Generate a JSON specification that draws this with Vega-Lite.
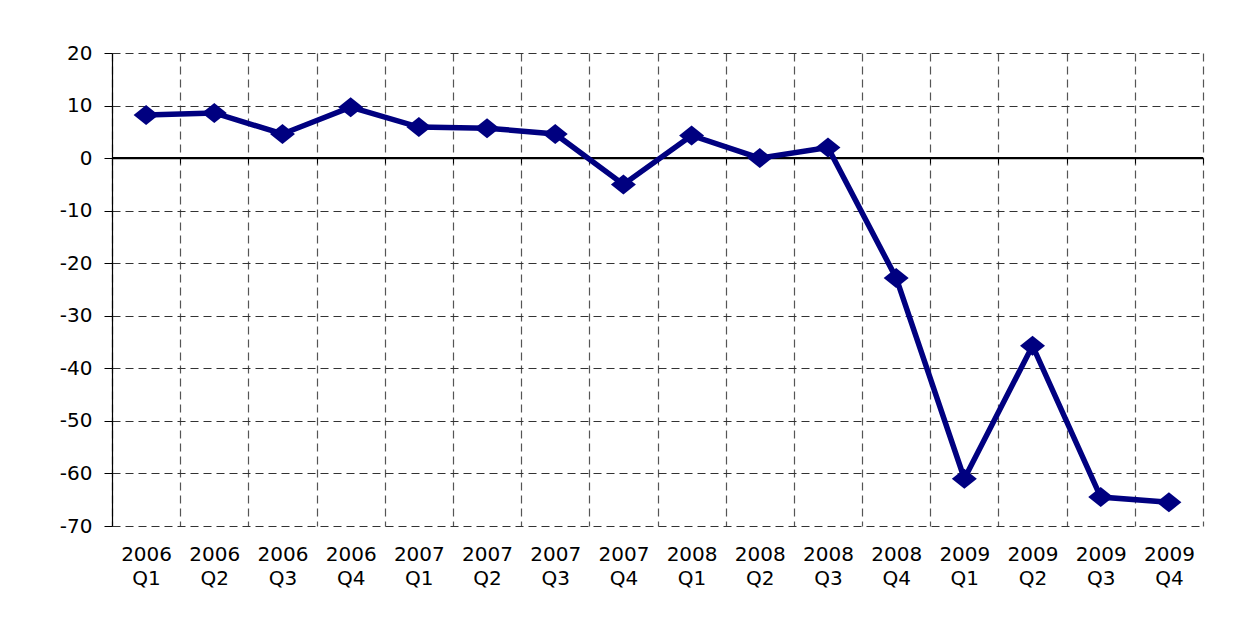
{
  "$schema": "https://vega.github.io/schema/vega-lite/v6.json",
  "width": 1091,
  "height": 473,
  "autosize": "none",
  "padding": {"left": 112, "top": 53, "right": 31, "bottom": 118},
  "background": "white",
  "config": {
    "font": "DejaVu Sans",
    "view": {"stroke": null}
  },
  "data": {
    "values": [
      {"q": "2006 Q1", "v": 8.2},
      {"q": "2006 Q2", "v": 8.6},
      {"q": "2006 Q3", "v": 4.6},
      {"q": "2006 Q4", "v": 9.7},
      {"q": "2007 Q1", "v": 5.9},
      {"q": "2007 Q2", "v": 5.7},
      {"q": "2007 Q3", "v": 4.6},
      {"q": "2007 Q4", "v": -5.0},
      {"q": "2008 Q1", "v": 4.3},
      {"q": "2008 Q2", "v": 0.0},
      {"q": "2008 Q3", "v": 2.0},
      {"q": "2008 Q4", "v": -22.8},
      {"q": "2009 Q1", "v": -61.0},
      {"q": "2009 Q2", "v": -35.7},
      {"q": "2009 Q3", "v": -64.5},
      {"q": "2009 Q4", "v": -65.5}
    ]
  },
  "encoding": {
    "x": {
      "field": "q",
      "type": "nominal",
      "sort": null,
      "scale": {"type": "band", "paddingInner": 0, "paddingOuter": 0},
      "axis": {
        "title": null,
        "labelAngle": 0,
        "labelExpr": "split(datum.label, ' ')",
        "labelFontSize": 20,
        "labelColor": "black",
        "labelPadding": 18,
        "labelLineHeight": 24,
        "labelBaseline": "top",
        "tickBand": "extent",
        "ticks": false,
        "domain": false,
        "grid": true,
        "gridColor": "#555",
        "gridDash": [8, 5],
        "gridWidth": 1.2
      }
    },
    "y": {
      "field": "v",
      "type": "quantitative",
      "scale": {"domain": [-70, 20], "nice": false, "zero": false},
      "axis": {
        "title": null,
        "values": [-70, -60, -50, -40, -30, -20, -10, 0, 10, 20],
        "labelExpr": "'' + datum.value",
        "labelFontSize": 20,
        "labelColor": "black",
        "labelPadding": 12,
        "tickSize": 8,
        "tickColor": "black",
        "domainColor": "black",
        "domainWidth": 1.2,
        "grid": true,
        "gridColor": "#333",
        "gridDash": [8, 5],
        "gridWidth": 1.2
      }
    }
  },
  "layer": [
    {
      "mark": {"type": "rule", "color": "black", "strokeWidth": 1.3},
      "encoding": {"y": {"datum": 0, "type": "quantitative"}, "x": null}
    },
    {
      "mark": {"type": "line", "color": "#000080", "strokeWidth": 5.5}
    },
    {
      "mark": {
        "type": "point",
        "shape": "M-1,0L0,-0.8L1,0L0,0.8Z",
        "filled": true,
        "color": "#000080",
        "opacity": 1,
        "size": 625
      },
      "encoding": {
        "x": {
          "field": "q",
          "type": "nominal",
          "sort": null,
          "scale": {"type": "band", "paddingInner": 0, "paddingOuter": 0},
          "axis": {
            "title": null,
            "orient": "bottom",
            "offset": -367.9,
            "labels": false,
            "grid": false,
            "tickBand": "extent",
            "ticks": true,
            "tickSize": 5,
            "tickColor": "black",
            "domain": true,
            "domainColor": "black",
            "domainWidth": 1.3
          }
        }
      }
    }
  ],
  "resolve": {"axis": {"x": "independent"}}
}
